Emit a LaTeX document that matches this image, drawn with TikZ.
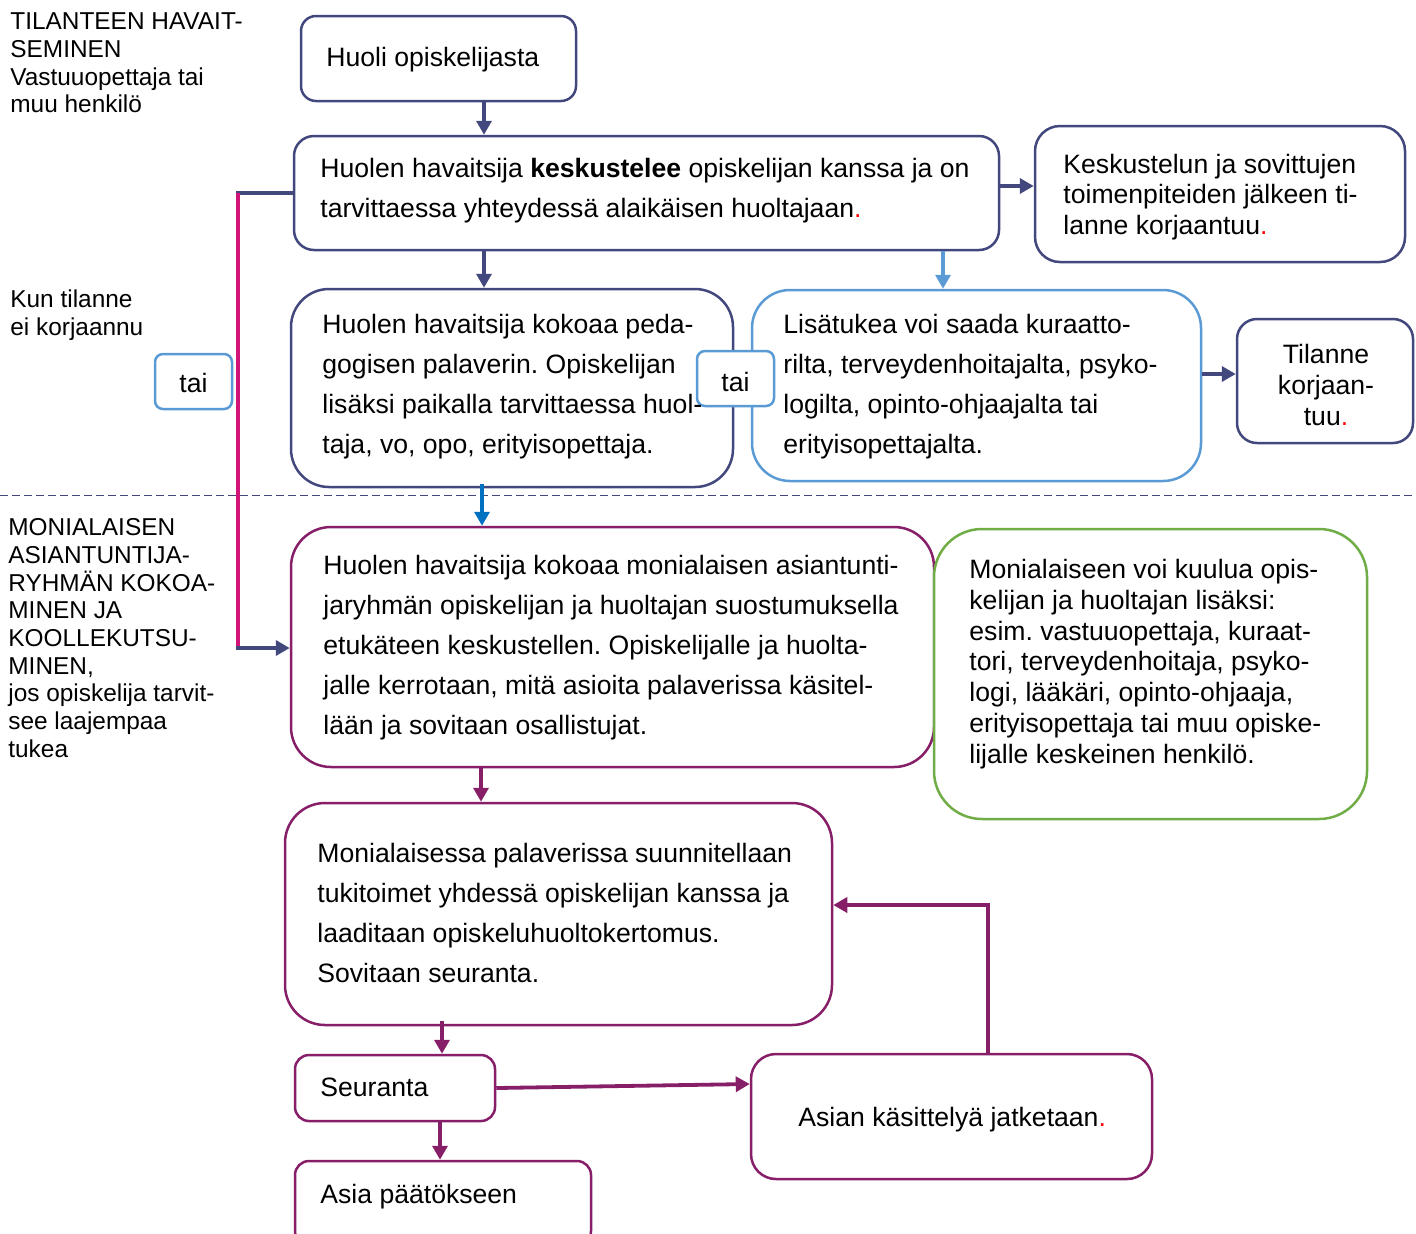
\documentclass[tikz,border=0pt]{standalone}
\usepackage{fontspec}
\setmainfont{Liberation Sans}
\usetikzlibrary{arrows.meta}
\AtBeginDocument{\frenchspacing}
\definecolor{navy}{RGB}{66,71,125}
\definecolor{lblue}{RGB}{91,155,213}
\definecolor{dblue}{RGB}{0,112,192}
\definecolor{plum}{RGB}{134,30,104}
\definecolor{mag}{RGB}{210,20,120}
\definecolor{grn}{RGB}{112,173,71}
\newcommand\fsA{\fontsize{13.3}{20}\selectfont}
\newcommand\fsB{\fontsize{13.3}{15.4}\selectfont}
\newcommand\fsL{\fontsize{12.2}{13.85}\selectfont}
\newcommand\rdot{\textcolor{red}{.}}
\begin{document}
\begin{tikzpicture}[x=0.5pt,y=-0.5pt,
  bx/.style={draw, rectangle, inner sep=0pt, line width=1.25pt, fill=white},
  tx/.style={anchor=west, align=left, inner sep=0pt, font=\fsA},
  lab/.style={anchor=west, align=left, inner sep=0pt, font=\fsL},
  arr/.style={line width=1.9pt, -{Triangle[length=7pt,width=7.5pt]}}]
\useasboundingbox (0,0) rectangle (1416,1233);
% boxes
\node[bx, draw=navy, minimum width=137.5pt, minimum height=42.5pt, rounded corners=7.5pt] (b1) at (438.5,58.5) {};
\node[bx, draw=navy, minimum width=352.5pt, minimum height=57pt, rounded corners=10pt] (b2) at (646.5,193) {};
\node[bx, draw=navy, minimum width=185pt, minimum height=68pt, rounded corners=12.5pt] (b3) at (1220,194) {};
\node[bx, draw=navy, minimum width=221pt, minimum height=99pt, rounded corners=19pt] (b4) at (512,388) {};
\node[bx, draw=lblue, minimum width=224.5pt, minimum height=95.5pt, rounded corners=19pt] (b5) at (976.5,385.5) {};
\node[bx, draw=navy, minimum width=88pt, minimum height=62pt, rounded corners=10pt] (b6) at (1325,381) {};
\node[bx, draw=lblue, minimum width=38.5pt, minimum height=27.5pt, rounded corners=4pt] (tai1) at (193.5,381.5) {};
\node[bx, draw=lblue, minimum width=38.5pt, minimum height=27.5pt, rounded corners=4pt] (tai2) at (735.5,378.5) {};
\node[bx, draw=plum, minimum width=321.5pt, minimum height=120pt, rounded corners=20pt] (b9) at (612.5,647) {};
\node[bx, draw=grn, minimum width=216.5pt, minimum height=145pt, rounded corners=24pt] (g10) at (1150.5,674) {};
\node[bx, draw=plum, minimum width=273.5pt, minimum height=111pt, rounded corners=20pt] (b11) at (558.5,914) {};
\node[bx, draw=plum, minimum width=100pt, minimum height=33pt, rounded corners=7pt] (b12) at (395,1088) {};
\node[bx, draw=plum, minimum width=148pt, minimum height=42pt, rounded corners=7pt] (b13) at (443,1203) {};
\node[bx, draw=plum, minimum width=200.5pt, minimum height=62.5pt, rounded corners=12.5pt] (b14) at (951.5,1116.5) {};
% texts
\node[tx] (t1) at (326,60) {Huoli opiskelijasta};
\node[tx] (t2) at (320,191) {Huolen havaitsija \textbf{keskustelee} opiskelijan kanssa ja on\\tarvittaessa yhteydessä alaikäisen huoltajaan\rdot};
\node[tx, font=\fsB] (t3) at (1063,197) {Keskustelun ja sovittujen\\toimenpiteiden jälkeen ti-\\lanne korjaantuu\rdot};
\node[tx] (t4) at (322,387) {Huolen havaitsija kokoaa peda-\\gogisen palaverin. Opiskelijan\\lisäksi paikalla tarvittaessa huol-\\taja, vo, opo, erityisopettaja.};
\node[tx] (t5) at (783,387) {Lisätukea voi saada kuraatto-\\rilta, terveydenhoitajalta, psyko-\\logilta, opinto-ohjaajalta tai\\erityisopettajalta.};
\node[tx, font=\fsB, anchor=center, align=center] (t6) at (1326,385) {Tilanne\\korjaan-\\tuu\rdot};
\node[tx, anchor=center] (tt1) at (193.5,383) {tai};
\node[tx, anchor=center] (tt2) at (735.5,382) {tai};
\node[tx] (t9) at (323,647.5) {Huolen havaitsija kokoaa monialaisen asiantunti-\\jaryhmän opiskelijan ja huoltajan suostumuksella\\etukäteen keskustellen. Opiskelijalle ja huolta-\\jalle kerrotaan, mitä asioita palaverissa käsitel-\\lään ja sovitaan osallistujat.};
\node[tx, font=\fsB] (t10) at (969,664) {Monialaiseen voi kuulua opis-\\kelijan ja huoltajan lisäksi:\\esim. vastuuopettaja, kuraat-\\tori, terveydenhoitaja, psyko-\\logi, lääkäri, opinto-ohjaaja,\\erityisopettaja tai muu opiske-\\lijalle keskeinen henkilö.};
\node[tx] (t11) at (317,913) {Monialaisessa palaverissa suunnitellaan\\tukitoimet yhdessä opiskelijan kanssa ja\\laaditaan opiskeluhuoltokertomus.\\Sovitaan seuranta.};
\node[tx] (t12) at (320,1087) {Seuranta};
\node[tx] (t13) at (320,1197) {Asia päätökseen};
\node[tx] (t14) at (798,1120) {Asian käsittelyä jatketaan\rdot};
\node[lab] (l1) at (10,63) {TILANTEEN HAVAIT-\\SEMINEN\\Vastuuopettaja tai\\muu henkilö};
\node[lab] (l2) at (10,315) {Kun tilanne\\ei korjaannu};
\node[lab] (l3) at (8,638) {MONIALAISEN\\ASIANTUNTIJA-\\RYHMÄN KOKOA-\\MINEN JA\\KOOLLEKUTSU-\\MINEN,\\jos opiskelija tarvit-\\see laajempaa\\tukea};
% helper coordinates
\coordinate (dl) at (0,495);
\coordinate (dr) at (1416,495);
\coordinate (x484) at (484,0);
\coordinate (x943) at (943,0);
\coordinate (x482) at (482,0);
\coordinate (x481) at (481,0);
\coordinate (x442) at (442,0);
\coordinate (x440) at (440,0);
\coordinate (y186) at (0,186);
\coordinate (y374) at (0,374);
\coordinate (lt) at (238,193);
\coordinate (lb) at (238,648);
\coordinate (ya) at (0,1084);
\coordinate (fb) at (988,905);
% dashed separator
\draw[navy, line width=0.5pt, dash pattern=on 4pt off 2pt] (dl) -- (dr);
% connectors
\draw[arr, navy] (x484 |- b1.south) -- (x484 |- b2.north);
\draw[arr, navy] (b2.east |- y186) -- (b3.west |- y186);
\draw[arr, navy] (x484 |- b2.south) -- (x484 |- b4.north);
\draw[arr, lblue] (x943 |- b2.south) -- (x943 |- b5.north);
\draw[arr, navy] (b5.east |- y374) -- (b6.west |- y374);
\draw[arr, dblue] ([yshift=2pt]x482 |- b4.south) -- (x482 |- b9.north);
\draw[navy, line width=1.9pt] (b2.west) -- ([xshift=-0.95pt]lt);
\draw[mag, line width=1.9pt] (lt) -- (lb);
\draw[arr, navy] ([xshift=-0.95pt]lb) -- (b9.west |- lb);
\draw[arr, plum] (x481 |- b9.south) -- (x481 |- b11.north);
\draw[arr, plum] ([yshift=2.5pt]x442 |- b11.south) -- (x442 |- b12.north);
\draw[arr, plum] (x440 |- b12.south) -- (x440 |- b13.north);
\draw[arr, plum] (b12.east) -- (b14.west |- ya);
\draw[arr, plum] (fb |- b14.north) -- (fb) -- (b11.east |- fb);
\end{tikzpicture}
\end{document}
